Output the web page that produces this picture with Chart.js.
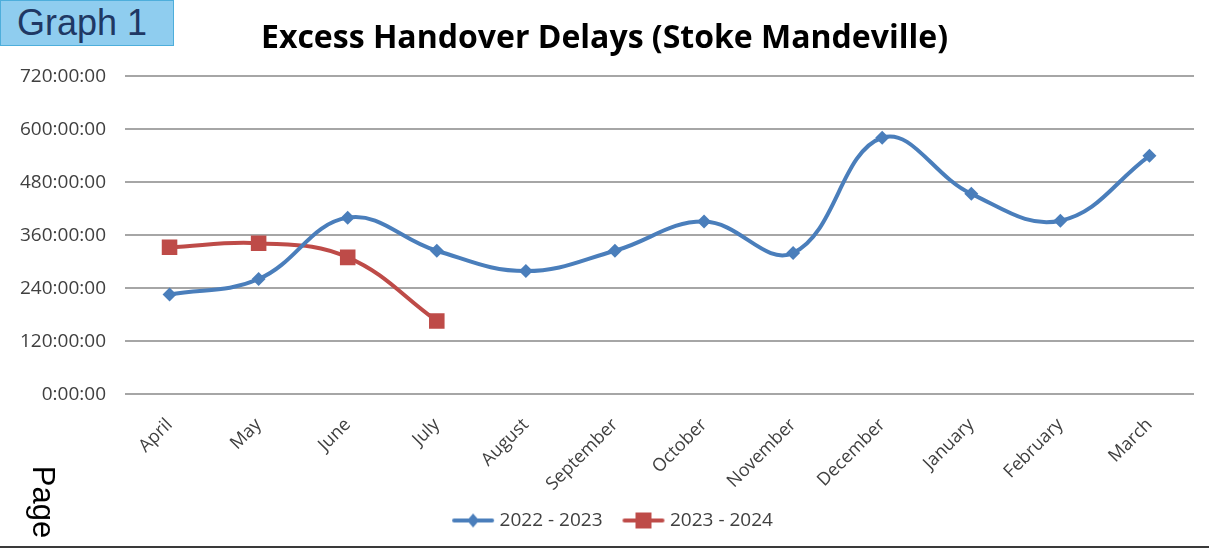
<!DOCTYPE html>
<html lang="en">
<head>
    <meta charset="UTF-8">
    <title>Excess Handover Delays (Stoke Mandeville)</title>
    <script src="https://cdn.jsdelivr.net/npm/chart.js"></script>
    <style>
        html, body { margin: 0; padding: 0; background: #fff; }
        body { width: 1209px; height: 549px; position: relative; overflow: hidden; }
        #graphTag {
            position: absolute; left: 0; top: 0; width: 174px; height: 46px;
            background: #8fcdef; border: 1px solid #4eaedb;
            font-family: "Liberation Sans", Arial, sans-serif; font-size: 36px;
            color: #1f3864; line-height: 44px; padding-left: 16px; box-sizing: border-box;
        }
        #pageTag {
            position: absolute; left: 3px; top: 486px; width: 80px; height: 32px;
            text-align: center; line-height: 32px;
            font-family: "Liberation Sans", Arial, sans-serif; font-size: 31px; color: #000;
            transform: rotate(90deg); transform-origin: center;
        }
        #bottomLine { position: absolute; left: 0; top: 546px; width: 1209px; height: 2px; background: #3a3a3a; }
        canvas { position: absolute; left: 0; top: 0; }
    </style>
</head>
<body>
    <canvas id="myChart" width="1209" height="549"></canvas>
    <div id="graphTag">Graph 1</div>
    <div id="pageTag">Page</div>
    <div id="bottomLine"></div>

    <script>
        // months, Apr to Mar
        const months = ['April', 'May', 'June', 'July', 'August', 'September', 'October',
                        'November', 'December', 'January', 'February', 'March'];
        // hours of excess delay
        const delays2223 = [226, 261, 400, 325, 279, 325, 391, 320, 581, 454, 393, 540];
        const delays2324 = [333, 342, 310, 166];
        const yTicks = [0, 120, 240, 360, 480, 600, 720];

        const blue = '#4a7ebb';
        const red = '#be4b48';

        // line+marker picture for the legend (blank 20px on the left = gap between items)
        function legendIcon(color, shape) {
            const c = document.createElement('canvas');
            c.width = 64; c.height = 18;
            const g = c.getContext('2d');
            g.strokeStyle = color; g.lineWidth = 4; g.lineCap = 'round';
            g.beginPath(); g.moveTo(23, 9); g.lineTo(61, 9); g.stroke();
            g.fillStyle = color;
            g.beginPath();
            if (shape === 'diamond') {
                g.moveTo(42, 2); g.lineTo(48, 9); g.lineTo(42, 16); g.lineTo(36, 9);
            } else {
                g.rect(34, 1, 16, 16);
            }
            g.fill();
            return c;
        }

        const ctx = document.getElementById('myChart').getContext('2d');
        const myChart = new Chart(ctx, {
            type: 'line',
            data: {
                labels: months,
                datasets: [{
                    label: '2022 - 2023',
                    data: delays2223,
                    borderColor: blue,
                    backgroundColor: blue,
                    borderWidth: 4,
                    tension: 0.4,
                    pointStyle: 'rectRot',
                    pointRadius: 7,
                    pointBorderWidth: 0
                }, {
                    label: '2023 - 2024',
                    data: delays2324,
                    borderColor: red,
                    backgroundColor: red,
                    borderWidth: 4,
                    tension: 0.4,
                    pointStyle: 'rect',
                    pointRadius: 11,
                    pointBorderWidth: 0
                }]
            },
            options: {
                responsive: false,
                animation: false,
                layout: { padding: { left: 15, right: 15, top: 0, bottom: 9 } },
                plugins: {
                    tooltip: { enabled: false },
                    title: {
                        display: true,
                        text: 'Excess Handover Delays (Stoke Mandeville)',
                        color: '#000',
                        font: { family: 'Open Sans', size: 32, weight: 'bold' },
                        padding: { top: 20, bottom: 18 }
                    },
                    legend: {
                        position: 'bottom',
                        labels: {
                            color: '#404040',
                            font: { family: 'Open Sans', size: 19 },
                            usePointStyle: true,
                            pointStyleWidth: 54,
                            boxHeight: 18,
                            padding: 4,
                            generateLabels: (chart) => chart.data.datasets.map((ds, i) => ({
                                text: ds.label,
                                fontColor: '#404040',
                                datasetIndex: i,
                                pointStyle: legendIcon(ds.borderColor, i === 0 ? 'diamond' : 'square'),
                                lineWidth: 0
                            }))
                        }
                    }
                },
                scales: {
                    x: {
                        offset: true,
                        grid: { display: false },
                        border: { display: false },
                        ticks: {
                            color: '#404040',
                            font: { family: 'Open Sans', size: 18 },
                            maxRotation: 45, minRotation: 45,
                            padding: 12
                        }
                    },
                    y: {
                        min: 0, max: 720,
                        afterFit: (scale) => { scale.width = 110; },
                        afterBuildTicks: (scale) => { scale.ticks = yTicks.map(v => ({ value: v })); },
                        border: { display: false },
                        grid: { color: '#a6a6a6', lineWidth: 2, drawTicks: false },
                        ticks: {
                            color: '#404040',
                            font: { family: 'Open Sans', size: 19 },
                            padding: 19,
                            callback: (v) => v + ':00:00'
                        }
                    }
                }
            }
        });
    </script>
</body>
</html>
